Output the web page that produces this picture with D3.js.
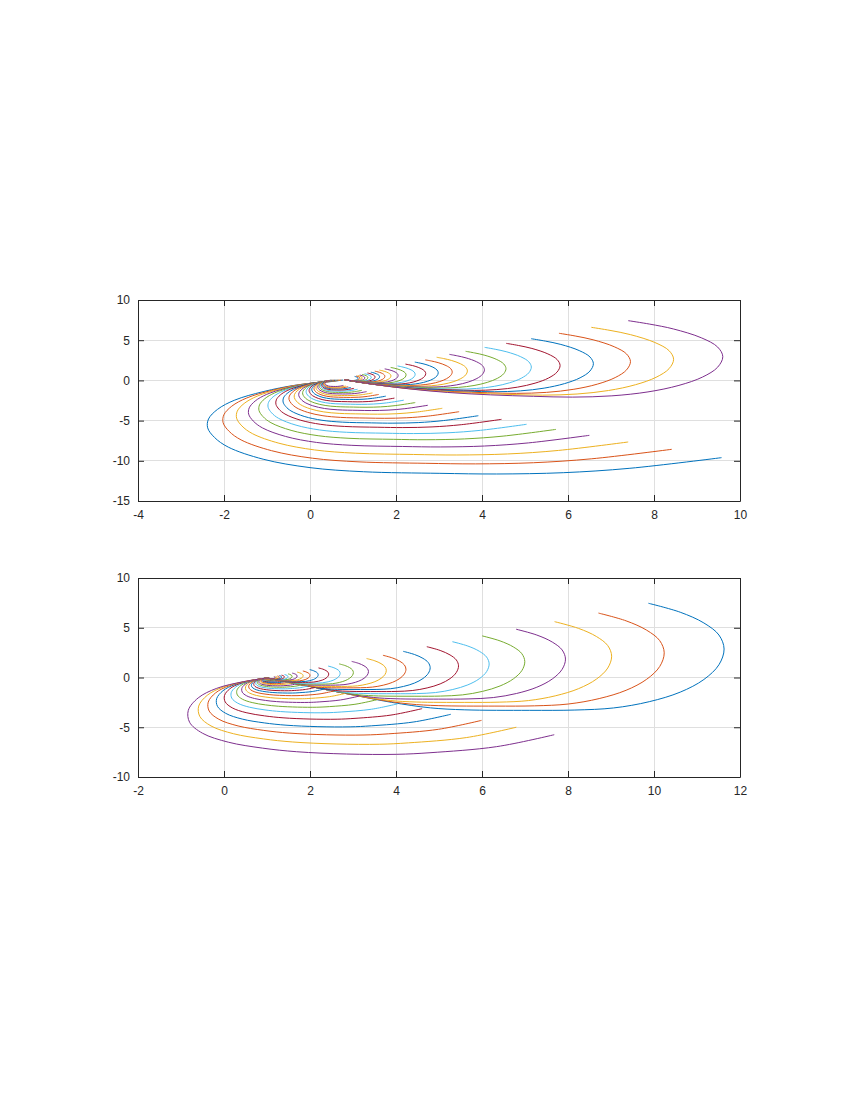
<!DOCTYPE html>
<html><head><meta charset="utf-8">
<script src="https://cdn.jsdelivr.net/npm/d3@7"></script>
<style>body{margin:0;background:#fff}svg{display:block}</style>
</head><body>
<svg id="chart" width="850" height="1100"></svg>
<script>
// MATLAB default colour order
const colorOrder = ["#0072BD","#D95319","#EDB120","#7E2F8E","#77AC30","#4DBEEE","#A2142F"];

// ---- tick labels ----
const topXTicks = [-4,-2,0,2,4,6,8,10];
const topYTicks = [-15,-10,-5,0,5,10];
const botXTicks = [-2,0,2,4,6,8,10,12];
const botYTicks = [-10,-5,0,5,10];

// ---- top subplot: upper-right arcs (outermost arc) ----
const topArcA = [[0.8,0.1],[1.5,-0.5],[2.3,-1.05],[3.2,-1.5],[4.2,-1.8],[5.2,-1.98],[6.1,-2.08],[7.02,-1.92],[7.86,-1.43],[8.58,-0.62],[9.13,0.42],[9.48,1.64],[9.6,2.95],[9.48,4.15],[9.1,5.3],[8.45,6.4],[7.9,7.0],[7.40,7.43]];
const topArcAPivot = [0.8,0.1];
// size of each line's arc relative to the outermost, in plotting order (line 1..25)
const topArcAScaleX = [0.036,0.041,0.047,0.054,0.062,0.071,0.081,0.093,0.107,0.123,0.142,0.163,0.187,0.215,0.248,0.285,0.325,0.370,0.427,0.494,0.570,0.658,0.756,0.870,1];
const topArcAScaleY = [0.054,0.061,0.069,0.077,0.088,0.099,0.112,0.126,0.143,0.161,0.182,0.206,0.232,0.263,0.297,0.335,0.379,0.428,0.480,0.547,0.615,0.694,0.786,0.887,1];

// ---- top subplot: lower-left arcs ----
const topArcB = [[0.77,0.05],[0.47,-0.16],[-0.31,-0.57],[-1.09,-1.4],[-1.75,-2.45],[-2.15,-3.6],[-2.36,-4.8],[-2.38,-5.9],[-2.22,-7.1],[-1.9,-8.3],[-1.09,-9.8],[0.0,-10.85],[1.24,-11.36],[3.02,-11.56],[4.34,-11.64],[5.89,-11.48],[7.44,-10.93],[9.57,-9.61]];
const topArcBPivot = [0.45,0];
const topArcBScaleX = [1,0.873,0.762,0.663,0.578,0.503,0.439,0.380,0.331,0.288,0.251,0.219,0.190,0.166,0.144,0.126,0.110,0.095,0.083,0.072,0.063,0.055,0.048,0.042,0.036];
const topArcBScaleY = [1,0.892,0.797,0.711,0.634,0.568,0.504,0.457,0.405,0.361,0.322,0.287,0.256,0.229,0.204,0.182,0.162,0.145,0.129,0.115,0.103,0.092,0.082,0.073,0.065];

// ---- bottom subplot: upper-right arcs ----
const botArcA = [[1.0,-0.05],[1.6,-0.55],[2.3,-1.15],[3.0,-1.75],[3.9,-2.5],[4.8,-3.05],[5.6,-3.25],[7.1,-3.3],[8.16,-3.27],[9.06,-3.06],[9.89,-2.43],[10.61,-1.47],[11.16,-0.2],[11.51,1.28],[11.63,2.86],[11.51,4.27],[11.16,5.48],[10.61,6.56],[9.87,7.46]];
const botArcAPivot = [1.0,-0.05];
const botArcAScale = [1,0.869,0.754,0.653,0.564,0.486,0.419,0.357,0.304,0.261,0.222,0.189,0.160,0.135,0.112,0.094,0.079,0.066,0.055,0.046,0.038,0.032,0.027,0.022,0.018];

// ---- bottom subplot: lower-left arcs ----
const botArcB = [[1.0,-0.05],[0.45,-0.42],[-0.17,-1.09],[-0.6,-2.05],[-0.83,-3.3],[-0.8,-4.5],[-0.5,-5.6],[0.1,-6.5],[0.9,-7.1],[1.69,-7.46],[2.85,-7.69],[4.02,-7.72],[4.79,-7.56],[6.34,-6.95],[7.68,-5.75]];
const botArcBPivot = [1.0,-0.05];
const botArcBScale = [0.020,0.024,0.028,0.033,0.039,0.046,0.054,0.063,0.074,0.087,0.103,0.121,0.142,0.167,0.197,0.231,0.272,0.32,0.383,0.455,0.54,0.64,0.747,0.868,1];

const svg = d3.select("#chart");
svg.append("rect").attr("width",850).attr("height",1100).attr("fill","#fff");

const axisColor = "#262626";
const gridColor = "#dfdfdf";
const fontFamily = "'Liberation Sans', Arial, Helvetica, sans-serif";

function drawPanel(cfg, id) {
  const {left, right, top, bottom} = cfg;
  const x = d3.scaleLinear().domain(cfg.xDomain).range([left, right]);
  const y = d3.scaleLinear().domain(cfg.yDomain).range([bottom, top]);
  const g = svg.append("g");

  g.append("clipPath").attr("id", id).append("rect")
    .attr("x", left).attr("y", top).attr("width", right-left).attr("height", bottom-top);

  // grid
  g.append("g").selectAll("line").data(cfg.xTicks).join("line")
    .attr("x1", d=>x(d)).attr("x2", d=>x(d)).attr("y1", top).attr("y2", bottom)
    .attr("stroke", gridColor).attr("stroke-width", 1).attr("shape-rendering","crispEdges");
  g.append("g").selectAll("line").data(cfg.yTicks).join("line")
    .attr("y1", d=>y(d)).attr("y2", d=>y(d)).attr("x1", left).attr("x2", right)
    .attr("stroke", gridColor).attr("stroke-width", 1).attr("shape-rendering","crispEdges");

  // curves
  const line = d3.line().x(d=>x(d[0])).y(d=>y(d[1])).curve(d3.curveCatmullRom.alpha(0.5));
  const cg = g.append("g").attr("clip-path", `url(#${id})`);
  const n = cfg.families[0].sx.length;
  for (let j = 0; j < n; j++) {
    const color = colorOrder[j % colorOrder.length];
    cfg.families.forEach(f => {
      const pts = f.base.map(p => [f.pivot[0] + f.sx[j]*(p[0]-f.pivot[0]), f.pivot[1] + f.sy[j]*(p[1]-f.pivot[1])]);
      cg.append("path").attr("d", line(pts)).attr("fill","none")
        .attr("stroke", color).attr("stroke-width", 1);
    });
  }

  // axes (ticks inside, box on)
  const tl = 6;
  const fmt = d => String(d);
  const ax = g.append("g");
  const xb = d3.axisBottom(x).tickValues(cfg.xTicks).tickSizeInner(-tl).tickSizeOuter(0).tickPadding(9).tickFormat(fmt);
  const yl = d3.axisLeft(y).tickValues(cfg.yTicks).tickSizeInner(-tl).tickSizeOuter(0).tickPadding(8).tickFormat(fmt);
  const xt = d3.axisTop(x).tickValues(cfg.xTicks).tickSizeInner(-tl).tickSizeOuter(0).tickFormat("");
  const yr = d3.axisRight(y).tickValues(cfg.yTicks).tickSizeInner(-tl).tickSizeOuter(0).tickFormat("");
  const styleAxis = sel => {
    sel.selectAll("path,line").attr("stroke", axisColor).attr("stroke-width", 1);
    sel.selectAll("text").attr("fill", axisColor).attr("font-family", fontFamily).attr("font-size", 12);
  };
  ax.append("g").attr("transform", `translate(0,${bottom})`).call(xb).call(styleAxis);
  ax.append("g").attr("transform", `translate(${left},0)`).call(yl).call(styleAxis);
  ax.append("g").attr("transform", `translate(0,${top})`).call(xt).call(styleAxis);
  ax.append("g").attr("transform", `translate(${right},0)`).call(yr).call(styleAxis);
}

drawPanel({
  left:138, right:740, top:300, bottom:501,
  xDomain:[-4,10], yDomain:[-15,10], xTicks: topXTicks, yTicks: topYTicks,
  families: [
    {base: topArcA, pivot: topArcAPivot, sx: topArcAScaleX, sy: topArcAScaleY},
    {base: topArcB, pivot: topArcBPivot, sx: topArcBScaleX, sy: topArcBScaleY}
  ]
}, "clipTop");

drawPanel({
  left:138, right:740, top:578, bottom:777,
  xDomain:[-2,12], yDomain:[-10,10], xTicks: botXTicks, yTicks: botYTicks,
  families: [
    {base: botArcA, pivot: botArcAPivot, sx: botArcAScale, sy: botArcAScale},
    {base: botArcB, pivot: botArcBPivot, sx: botArcBScale, sy: botArcBScale}
  ]
}, "clipBot");
</script>
</body></html>
